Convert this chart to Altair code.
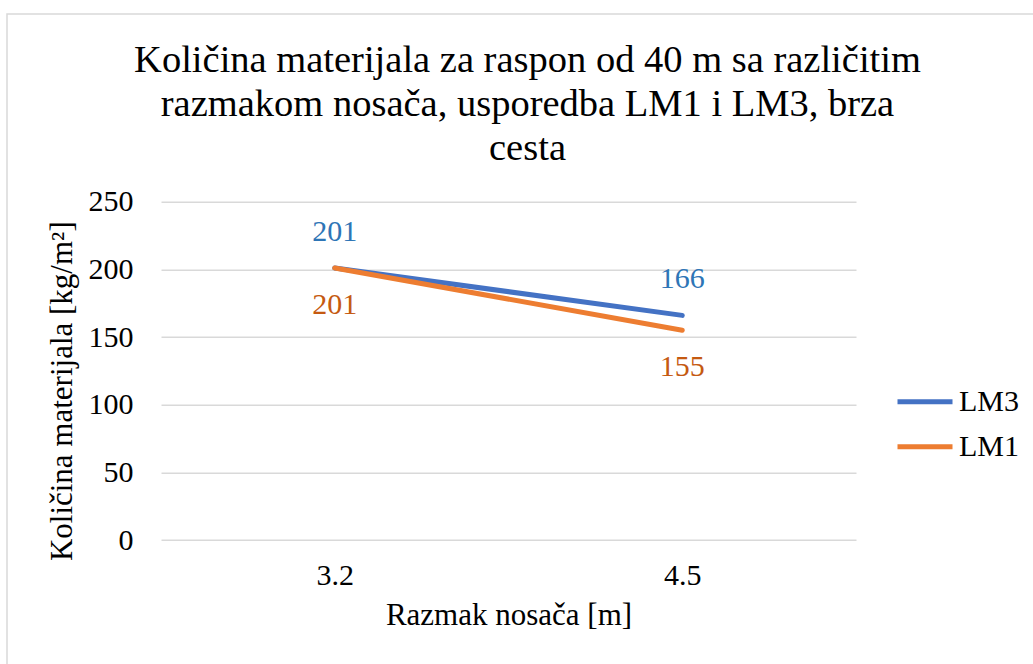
import altair as alt
import pandas as pd

# Girder spacing categories and material quantities per series
spacing = ["3.2", "4.5"]
lm3_values = [201, 166]
lm1_values = [201, 155]
series_order = ["LM3", "LM1"]
line_colors = ["#4472C4", "#ED7D31"]
label_colors = {"LM3": "#2E75B6", "LM1": "#C55A11"}
title_lines = [
    "Količina materijala za raspon od 40 m sa različitim",
    "razmakom nosača, usporedba LM1 i LM3, brza",
    "cesta",
]

rows = []
for s, v in zip(spacing, lm3_values):
    rows.append({"razmak": s, "kolicina": v, "serija": "LM3"})
for s, v in zip(spacing, lm1_values):
    rows.append({"razmak": s, "kolicina": v, "serija": "LM1"})
df = pd.DataFrame(rows)

FONT = "Liberation Serif"
W, H = 695, 338.3
LEFT, TOP = 161, 201.7

x_enc = alt.X(
    "razmak:N",
    sort=spacing,
    scale=alt.Scale(type="point", padding=0.5),
    axis=alt.Axis(
        title="Razmak nosača [m]",
        labelAngle=0,
        ticks=False,
        domain=False,
        grid=False,
        labelPadding=20,
        titlePadding=10,
        labelFont=FONT,
        titleFont=FONT,
    ),
)
y_enc = alt.Y(
    "kolicina:Q",
    scale=alt.Scale(domain=[0, 250], nice=False),
    axis=alt.Axis(
        title="Količina materijala [kg/m²]",
        values=[0, 50, 100, 150, 200, 250],
        ticks=False,
        domain=False,
        gridColor="#D9D9D9",
        gridWidth=1.5,
        labelPadding=28,
        titlePadding=10,
        titleY=189,
        labelFont=FONT,
        titleFont=FONT,
    ),
)

lines = alt.Chart(df).mark_line(strokeWidth=5, strokeCap="round").encode(
    x=x_enc,
    y=y_enc,
    color=alt.Color(
        "serija:N",
        sort=series_order,
        scale=alt.Scale(domain=series_order, range=line_colors),
        legend=alt.Legend(
            title=None,
            orient="none",
            legendX=734,
            legendY=170,
            symbolType="stroke",
            symbolSize=3025,
            symbolStrokeWidth=5,
            labelFontSize=30,
            labelFont=FONT,
            labelColor="black",
            labelOffset=4,
            rowPadding=-4,
            padding=0,
        ),
    ),
)

labels_top = alt.Chart(df[df.serija == "LM3"]).mark_text(
    font=FONT, fontSize=30, dy=-36, color=label_colors["LM3"]
).encode(x="razmak:N", y="kolicina:Q", text="kolicina:Q")

labels_bottom = alt.Chart(df[df.serija == "LM1"]).mark_text(
    font=FONT, fontSize=30, dy=37, color=label_colors["LM1"]
).encode(x="razmak:N", y="kolicina:Q", text="kolicina:Q")

one_row = pd.DataFrame({"a": [0]})

# Outer frame of the chart
frame = alt.Chart(one_row).mark_rect(
    fill=None, stroke="#D9D9D9", strokeWidth=1.5
).encode(
    x=alt.value(7 - LEFT),
    x2=alt.value(1100 - LEFT),
    y=alt.value(14 - TOP),
    y2=alt.value(720 - TOP),
)

chart = (
    alt.layer(frame, lines, labels_top, labels_bottom)
    .properties(
        width=W,
        height=H,
        autosize=alt.AutoSizeParams(type="none"),
        padding={"left": LEFT, "top": TOP, "right": 1033 - LEFT - W, "bottom": 664 - TOP - H},
        background="white",
        title=alt.TitleParams(
            text=title_lines,
            font=FONT,
            fontSize=38.5,
            fontWeight="normal",
            color="black",
            anchor="middle",
            dx=19,
            dy=159,
            lineHeight=44,
        ),
    )
    .configure_axis(
        labelFontSize=30,
        labelColor="black",
        titleFontSize=31,
        titleFontWeight="normal",
        titleColor="black",
    )
    .configure_view(strokeWidth=0)
)

chart.save("out.html", embed_options={"renderer": "svg", "actions": False})
